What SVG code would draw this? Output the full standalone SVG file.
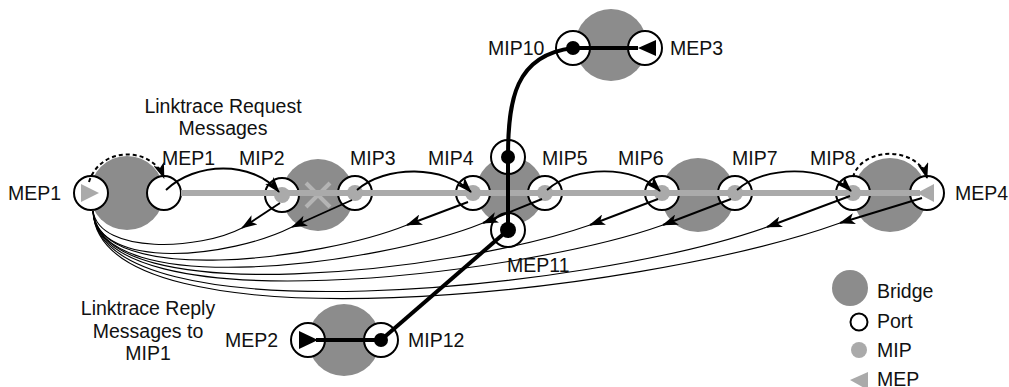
<svg xmlns="http://www.w3.org/2000/svg" width="1009" height="387" viewBox="0 0 1009 387">
<style>
text{font-family:"Liberation Sans",Arial,sans-serif;font-size:19.5px;fill:#111}
.br{fill:#8c8c8c}
.port{fill:#fff;stroke:#000;stroke-width:2}
.mip{fill:#aaa}
.gl{stroke:#aaa;stroke-width:6;fill:none}
.req{fill:none;stroke:#000;stroke-width:1.9}
.dash{fill:none;stroke:#000;stroke-width:2;stroke-dasharray:4 3}
.rep{fill:none;stroke:#000;stroke-width:1.9}
.thin{fill:none;stroke:#000;stroke-width:1.1}
.blk{fill:none;stroke:#000;stroke-width:4}
.dot{fill:#000}
</style>
<defs>
<marker id="ah" viewBox="0 0 16 11" refX="15" refY="5.5" markerWidth="16" markerHeight="11" markerUnits="userSpaceOnUse" orient="auto">
<path d="M0,0 L16,5.5 L0,11 L4,5.5 z" fill="#000"/>
</marker>
</defs>

<!-- bridges -->
<g id="bridge1"><circle class="br" cx="127" cy="193" r="37"/></g>
<g id="bridge2"><circle class="br" cx="318" cy="195" r="36"/>
<path d="M306,183 L330,207 M330,183 L306,207" stroke="#b4b4b4" stroke-width="4"/></g>
<g id="bridge3"><circle class="br" cx="510" cy="191" r="34"/></g>
<g id="bridge4"><circle class="br" cx="698" cy="195" r="37"/></g>
<g id="bridge5"><circle class="br" cx="890" cy="195" r="37"/></g>
<g id="bridge6"><circle class="br" cx="611" cy="45" r="36"/></g>
<g id="bridge7"><circle class="br" cx="344" cy="340" r="36"/></g>

<!-- ports -->
<g id="port-mep1a"><circle class="port" cx="91" cy="193" r="17"/><path d="M81,184 L99,193 L81,202 z" fill="#aaa"/></g>
<g id="port-mep1b"><circle class="port" cx="164" cy="193" r="17"/></g>
<g id="port-mip2"><circle class="port" cx="282" cy="195" r="17"/></g>
<g id="port-mip3"><circle class="port" cx="355" cy="193" r="17"/></g>
<g id="port-mip4"><circle class="port" cx="473" cy="193" r="17"/></g>
<g id="port-mip5"><circle class="port" cx="545" cy="193" r="17"/></g>
<g id="port-mip6"><circle class="port" cx="662" cy="193" r="17"/></g>
<g id="port-mip7"><circle class="port" cx="735" cy="193" r="17"/></g>
<g id="port-mip8"><circle class="port" cx="853" cy="193" r="17"/></g>
<g id="port-mep4"><circle class="port" cx="927" cy="193" r="17"/></g>
<g id="port-mip9"><circle class="port" cx="508" cy="157" r="17"/></g>
<g id="port-mep11"><circle class="port" cx="508" cy="230" r="17"/></g>
<g id="port-mip10"><circle class="port" cx="573" cy="48" r="17"/></g>
<g id="port-mep3"><circle class="port" cx="645" cy="48" r="17"/></g>
<g id="port-mep2"><circle class="port" cx="308" cy="340" r="17"/></g>
<g id="port-mip12"><circle class="port" cx="381" cy="340" r="17"/></g>

<!-- gray forwarding line and MIP dots -->
<g id="path-line">
<line class="gl" x1="181" y1="193" x2="920" y2="193"/>
<path d="M917,193 L934,184 L934,202 z" fill="#aaa"/>
<circle class="mip" cx="282" cy="195" r="8"/>
<circle class="mip" cx="355" cy="193" r="8"/>
<circle class="mip" cx="473" cy="193" r="8"/>
<circle class="mip" cx="545" cy="193" r="8"/>
<circle class="mip" cx="662" cy="193" r="8"/>
<circle class="mip" cx="735" cy="193" r="8"/>
<circle class="mip" cx="853" cy="193" r="8"/>
</g>

<!-- connectors -->
<g id="connectors">
<path class="blk" d="M508,157 L508,230"/>
<path class="blk" d="M508,157 C508,100 515,55 573,48"/>
<path class="blk" d="M573,48 L638,48"/>
<path d="M638,48 L656,40 L656,56 z" fill="#000"/>
<path class="blk" d="M508,230 L381,340"/>
<path class="blk" d="M316,340 L381,340"/>
<path d="M299,331 L318,340 L299,349 z" fill="#000"/>
<circle class="dot" cx="508" cy="157" r="7"/>
<circle class="dot" cx="508" cy="230" r="8"/>
<circle class="dot" cx="573" cy="48" r="7"/>
<circle class="dot" cx="381" cy="340" r="7"/>

<path class="dash" d="M89,182 C100,146 152,146 164,178" marker-end="url(#ah)"/>
<path class="req" d="M166,190 C195,162 252,160 279,192" marker-end="url(#ah)"/>
<path class="req" d="M357,190 C385,165 445,165 471,192" marker-end="url(#ah)"/>
<path class="req" d="M547,190 C575,165 635,165 660,191" marker-end="url(#ah)"/>
<path class="req" d="M737,190 C765,165 825,165 851,191" marker-end="url(#ah)"/>
<path class="dash" d="M853,177 C862,146 918,146 927,178" marker-end="url(#ah)"/>

<path class="rep" d="M280,203 L242,228" marker-end="url(#ah)"/>
<path class="rep" d="M352,200 L292,227" marker-end="url(#ah)"/>
<path class="rep" d="M468,202 L407,225" marker-end="url(#ah)"/>
<path class="rep" d="M542,199 L483,223" marker-end="url(#ah)"/>
<path class="rep" d="M658,199 L590,225" marker-end="url(#ah)"/>
<path class="rep" d="M731,199 L663,225" marker-end="url(#ah)"/>
<path class="rep" d="M850,196 L767,227" marker-end="url(#ah)"/>
<path class="rep" d="M922,198 L840,223" marker-end="url(#ah)"/>

<path class="thin" d="M242,228 C200,250 100,255 93,211"/>
<path class="thin" d="M292,227 C230,258 98,272 93,211"/>
<path class="thin" d="M407,225 C320,260 98,288 93,211"/>
<path class="thin" d="M483,223 C380,265 98,302 93,211"/>
<path class="thin" d="M590,225 C460,271 98,314 93,211"/>
<path class="thin" d="M663,225 C520,276 98,326 93,211"/>
<path class="thin" d="M767,227 C590,290 98,340 93,211"/>
<path class="thin" d="M840,223 C640,295 98,354 93,211"/>
</g>

<!-- labels -->
<g id="labels">
<text x="8" y="200">MEP1</text>
<text x="162" y="165">MEP1</text>
<text x="239" y="165">MIP2</text>
<text x="350" y="165">MIP3</text>
<text x="428" y="165">MIP4</text>
<text x="542" y="165">MIP5</text>
<text x="618" y="165">MIP6</text>
<text x="732" y="165">MIP7</text>
<text x="810" y="165">MIP8</text>
<text x="955" y="200">MEP4</text>
<text x="488" y="55">MIP10</text>
<text x="670" y="55">MEP3</text>
<text x="507" y="272">MEP11</text>
<text x="225" y="347">MEP2</text>
<text x="408" y="347">MIP12</text>
<text x="223" y="113" text-anchor="middle">Linktrace Request</text>
<text x="223" y="135" text-anchor="middle">Messages</text>
<text x="148" y="315" text-anchor="middle">Linktrace Reply</text>
<text x="148" y="338" text-anchor="middle">Messages to</text>
<text x="148" y="360" text-anchor="middle">MIP1</text>
</g>

<!-- legend -->
<g id="legend">
<circle class="br" cx="850" cy="288" r="18"/>
<text x="877" y="298">Bridge</text>
<circle cx="859" cy="322" r="8.5" fill="#fff" stroke="#000" stroke-width="2"/>
<text x="877" y="328">Port</text>
<circle class="mip" cx="859" cy="350" r="8"/>
<text x="877" y="357">MIP</text>
<path d="M850,380 L868,372 L868,390 z" fill="#aaa"/>
<text x="877" y="386">MEP</text>
</g>
</svg>
